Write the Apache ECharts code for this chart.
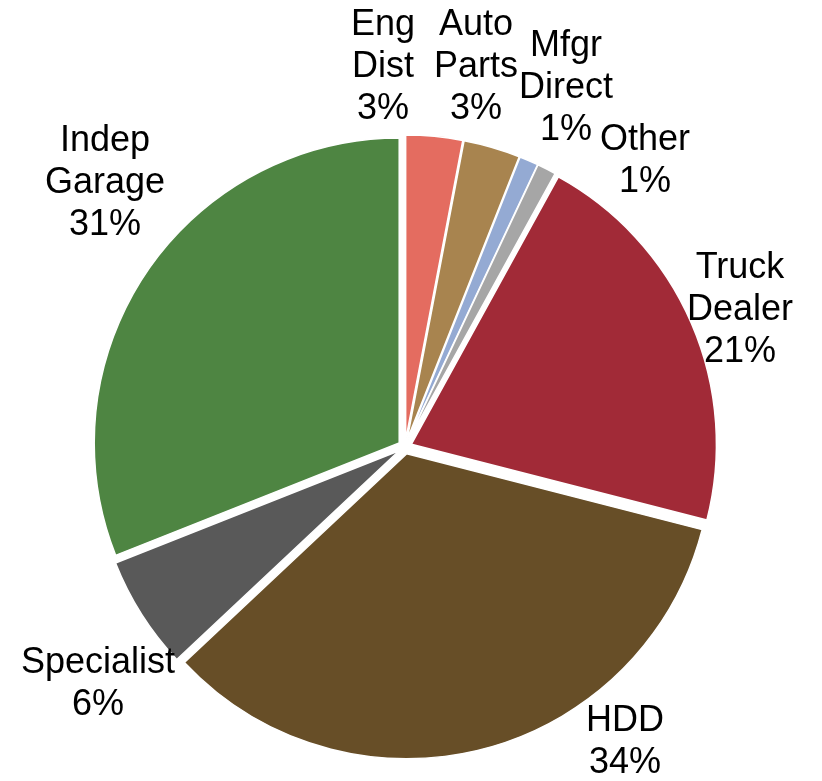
<!DOCTYPE html>
<html>
<head>
<meta charset="utf-8">
<script src="https://cdn.jsdelivr.net/npm/echarts@6/dist/echarts.min.js"></script>
<style>
html,body{margin:0;padding:0;background:#fff;}
#c{width:822px;height:781px;}
</style>
</head>
<body>
<div id="c"></div>
<script>
const categories = ['Eng\nDist', 'Auto\nParts', 'Mfgr\nDirect', 'Other', 'Truck\nDealer', 'HDD', 'Specialist', 'Indep\nGarage'];
const shares = [3, 3, 1, 1, 21, 34, 6, 31];
const colors = ['#E46C60', '#A8844F', '#94AAD3', '#A6A6A6', '#A12A37', '#674E27', '#595959', '#4E8542'];
// label block centres (px) as placed in the reference
const labelPos = [[383, 67], [476, 67], [566, 88], [645, 161], [740, 310], [625, 742], [98, 684], [105, 183]];

const chart = echarts.init(document.getElementById('c'), null, {renderer: 'canvas'});
chart.setOption({
  animation: false,
  backgroundColor: '#fff',
  graphic: categories.map((n, i) => ({
    type: 'text',
    x: labelPos[i][0],
    y: labelPos[i][1],
    z: 10,
    silent: true,
    style: {
      text: n + '\n' + shares[i] + '%',
      fontFamily: 'Liberation Sans, Arial, sans-serif',
      fontSize: 36,
      lineHeight: 42,
      fill: '#000',
      align: 'center',
      verticalAlign: 'middle'
    }
  })),
  series: [{
    type: 'pie',
    center: [405, 447],
    radius: 305,
    startAngle: 90,
    clockwise: true,
    selectedMode: 'multiple',
    selectedOffset: 7,
    itemStyle: {borderColor: '#fff', borderWidth: 1.5},
    label: {show: false},
    labelLine: {show: false},
    emphasis: {disabled: true},
    data: categories.map((n, i) => ({name: n.replace('\n', ' '), value: shares[i], selected: true, itemStyle: {color: colors[i]}}))
  }]
});
</script>
</body>
</html>
